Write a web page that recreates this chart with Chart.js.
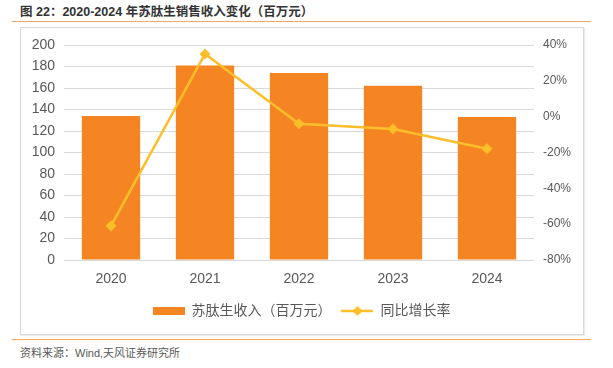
<!DOCTYPE html>
<html><head><meta charset="utf-8">
<script src="https://cdn.jsdelivr.net/npm/chart.js@4/dist/chart.umd.min.js"></script>
<style>
html,body{margin:0;padding:0;background:#fff;width:613px;height:368px;overflow:hidden;position:relative;font-family:"Liberation Sans","Noto Sans CJK SC",sans-serif;}
#title{position:absolute;left:20px;top:3px;font-size:12.5px;font-weight:bold;color:#333;white-space:nowrap;line-height:18px;}
#tline{position:absolute;left:12px;top:21px;width:579px;height:0;border-top:1.5px solid #F5A55E;}
#box{position:absolute;left:20px;top:27px;width:562px;height:306px;border:1px solid #d9d9d9;box-shadow:1px 1px 1px rgba(0,0,0,0.08);}
#bline{position:absolute;left:12px;top:339px;width:579px;height:0;border-top:1.5px solid #F5A55E;}
#src{position:absolute;left:20px;top:345px;font-size:11px;color:#595959;white-space:nowrap;line-height:16px;}
#c{position:absolute;left:0;top:0;}
</style></head>
<body>
<div id="title">图 22：2020-2024 年苏肽生销售收入变化（百万元）</div>
<div id="tline"></div>
<div id="box"></div>
<canvas id="c" width="613" height="335"></canvas>
<div id="bline"></div>
<div id="src">资料来源：Wind,天风证券研究所</div>
<script>
const categories = ['2020','2021','2022','2023','2024'];
const revenue = [134, 181, 174, 162, 133];
const growth = [-61, 35, -3.9, -6.9, -17.9];
const leftTicks = [0,20,40,60,80,100,120,140,160,180,200];
const rightTicks = [-80,-60,-40,-20,0,20,40];
const seriesNames = ['苏肽生收入（百万元）','同比增长率'];

const barColor = '#F58522';
const lineColor = '#FDBE2C';

function mkBarImg(){const c=document.createElement('canvas');c.width=32;c.height=8;const x=c.getContext('2d');x.fillStyle=barColor;x.fillRect(0,0,32,8);return c;}
function mkLineImg(){const c=document.createElement('canvas');c.width=32;c.height=12;const x=c.getContext('2d');x.strokeStyle=lineColor;x.lineWidth=2.5;x.beginPath();x.moveTo(0,6);x.lineTo(32,6);x.stroke();x.fillStyle=lineColor;x.beginPath();x.moveTo(16,1);x.lineTo(21,6);x.lineTo(16,11);x.lineTo(11,6);x.closePath();x.fill();return c;}
const barImg=mkBarImg(), lineImg=mkLineImg();

const tickFont = {family:'"Liberation Sans", Arial, sans-serif', size:14};
new Chart(document.getElementById('c'), {
  data:{
    labels: categories,
    datasets:[
      {type:'bar', label:seriesNames[0], data:revenue, backgroundColor:barColor, yAxisID:'y', order:2, barPercentage:0.62, categoryPercentage:1},
      {type:'line', label:seriesNames[1], data:growth, borderColor:lineColor, backgroundColor:lineColor, borderWidth:2.5, pointStyle:'rectRot', pointRadius:5.5, pointBorderWidth:0, yAxisID:'y1', order:1, tension:0}
    ]
  },
  options:{
    responsive:false, animation:false, devicePixelRatio:1,
    layout:{padding:{left:20,right:30,top:45,bottom:7}},
    plugins:{
      tooltip:{enabled:false},
      legend:{position:'bottom', labels:{
        usePointStyle:true, pointStyleWidth:32, boxHeight:12, padding:10,
        color:'#595959', font:{family:'"Liberation Sans","Noto Sans CJK SC",sans-serif', size:14},
        sort:(a,b)=>a.datasetIndex-b.datasetIndex,
        generateLabels(chart){const items=Chart.defaults.plugins.legend.labels.generateLabels(chart);items.forEach(it=>{it.pointStyle = it.datasetIndex===0?barImg:lineImg;});return items;}
      }}
    },
    scales:{
      x:{grid:{display:false, drawTicks:false}, border:{display:false}, ticks:{color:'#595959', font:tickFont, padding:11}, afterFit(s){s.height=34;}},
      y:{position:'left', min:0, max:200, afterBuildTicks(s){s.ticks=leftTicks.map(v=>({value:v}));},
         grid:{color:'#d9d9d9', lineWidth:1, drawTicks:false}, border:{display:false},
         ticks:{color:'#595959', font:tickFont, padding:9}, afterFit(s){s.width=44;}},
      y1:{position:'right', min:-80, max:40, afterBuildTicks(s){s.ticks=rightTicks.map(v=>({value:v}));},
         grid:{display:false, drawTicks:false}, border:{display:false},
         ticks:{color:'#595959', font:{family:'"Liberation Sans", Arial, sans-serif', size:12}, padding:9, callback:v=>v+'%'}, afterFit(s){s.width=49;}}
    }
  }
});
</script>
</body></html>
